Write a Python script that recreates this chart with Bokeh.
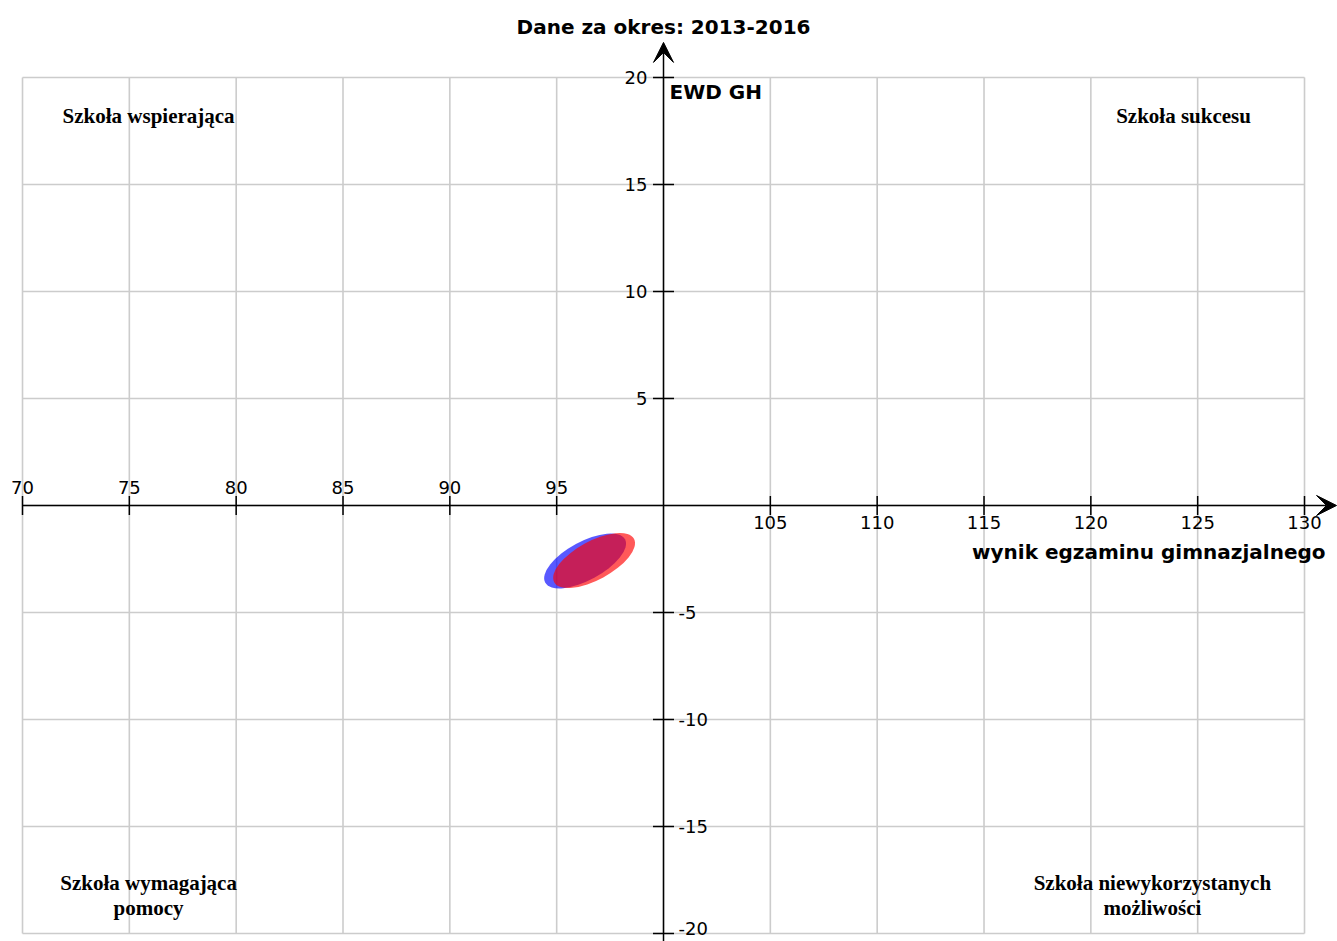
import math
from bokeh.plotting import figure
from bokeh.models import Range1d, Arrow, VeeHead
from bokeh.core.properties import value
from bokeh.embed import file_html
from bokeh.resources import INLINE

# ---------------- data ----------------
title_text = "Dane za okres: 2013-2016"
x_title = "wynik egzaminu gimnazjalnego"
y_title = "EWD GH"

x_ticks = [70, 75, 80, 85, 90, 95, 100, 105, 110, 115, 120, 125, 130]
y_ticks = [-20, -15, -10, -5, 0, 5, 10, 15, 20]
x_labels_left = [70, 75, 80, 85, 90, 95]
x_labels_right = [105, 110, 115, 120, 125, 130]
y_labels_pos = [5, 10, 15, 20]
y_labels_neg = [-5, -10, -15, -20]

# confidence ellipses (blue first, red on top)
ell_x = [96.33, 96.75]
ell_y = [-2.59, -2.57]
ell_w = [4.25, 4.25]
ell_h = [1.8, 1.8]
ell_angle_deg = [28.5, 28.5]
ell_colors = ["#0000ff", "#ff0000"]

quad_text = ["Szkoła wspierająca", "Szkoła sukcesu",
             "Szkoła wymagająca", "pomocy",
             "Szkoła niewykorzystanych", "możliwości"]
quad_x = [75.9, 124.34, 75.9, 75.9, 122.88, 122.88]
quad_y = [18.22, 18.22, -17.66, -18.83, -17.66, -18.83]

# ---------------- figure ----------------
X0, X1 = 70, 130
p = figure(width=1337, height=941,
           x_range=Range1d(68.970, 131.544), y_range=Range1d(-20.374, 23.598),
           toolbar_location=None, output_backend="svg",
           x_axis_location=None, y_axis_location=None, min_border=0)
p.outline_line_color = None
p.grid.visible = False
p.background_fill_color = "white"

grid_color = "#cccccc"
p.segment(x0=x_ticks, x1=x_ticks, y0=[min(y_ticks)] * len(x_ticks), y1=[max(y_ticks)] * len(x_ticks),
          line_color=grid_color, line_width=1.6)
p.segment(x0=[min(x_ticks)] * len(y_ticks), x1=[max(x_ticks)] * len(y_ticks), y0=y_ticks, y1=y_ticks,
          line_color=grid_color, line_width=1.6)

# ellipses
p.ellipse(x=ell_x, y=ell_y, width=ell_w, height=ell_h,
          angle=[math.radians(a) for a in ell_angle_deg],
          fill_color=ell_colors, fill_alpha=0.65, line_color=None)

# axis lines with arrow heads
p.add_layout(Arrow(end=VeeHead(size=20, fill_color="black", line_color="black", line_width=1),
                   x_start=X0, y_start=0, x_end=131.50, y_end=0,
                   line_color="black", line_width=1.5))
p.add_layout(Arrow(end=VeeHead(size=20, fill_color="black", line_color="black", line_width=1),
                   x_start=100, y_start=-20.374, x_end=100, y_end=21.64,
                   line_color="black", line_width=1.5))

# tick marks
xt = x_labels_left + x_labels_right
p.scatter(x=xt, y=[0] * len(xt), marker="dash", size=19, angle=math.pi / 2,
          line_color="black", line_width=1.5)
yt = y_labels_pos + y_labels_neg
p.scatter(x=[100] * len(yt), y=yt, marker="dash", size=21,
          line_color="black", line_width=1.5)

font = value("DejaVu Sans")
p.text(x=x_labels_left, y=[0] * len(x_labels_left), text=[str(v) for v in x_labels_left],
       text_font=font, text_font_size="18px", text_align="center", text_baseline="bottom",
       y_offset=-11, text_color="black")
p.text(x=x_labels_right, y=[0] * len(x_labels_right), text=[str(v) for v in x_labels_right],
       text_font=font, text_font_size="18px", text_align="center", text_baseline="top",
       y_offset=11, text_color="black")
p.text(x=[100] * len(y_labels_pos), y=y_labels_pos, text=[str(v) for v in y_labels_pos],
       text_font=font, text_font_size="18px", text_align="right", text_baseline="middle",
       x_offset=-16, text_color="black")
# the lowest label is nudged up slightly so it is not cut by the page edge
neg_offsets = [0 if v > min(y_labels_neg) else -5 for v in y_labels_neg]
p.text(x=[100] * len(y_labels_neg), y=y_labels_neg, text=[str(v) for v in y_labels_neg],
       text_font=font, text_font_size="18px", text_align="left", text_baseline="middle",
       x_offset=15, y_offset=neg_offsets, text_color="black")

# axis titles
p.text(x=[100], y=[20], text=[y_title], text_font=font, text_font_size="20px",
       text_font_style="bold", text_align="left", text_baseline="middle",
       x_offset=6, y_offset=15, text_color="black")
p.text(x=[130], y=[0], text=[x_title], text_font=font, text_font_size="20px",
       text_font_style="bold", text_align="right", text_baseline="middle",
       x_offset=21, y_offset=47, text_color="black")

# chart title
p.text(x=[100], y=[22.38], text=[title_text], text_font=font, text_font_size="20px",
       text_font_style="bold", text_align="center", text_baseline="middle", text_color="black")

# quadrant labels
p.text(x=quad_x, y=quad_y, text=quad_text, text_font=value("Liberation Serif"),
       text_font_size="21px", text_font_style="bold", text_align="center",
       text_baseline="middle", text_color="black")

open("out.html", "w").write(file_html(p, INLINE))
